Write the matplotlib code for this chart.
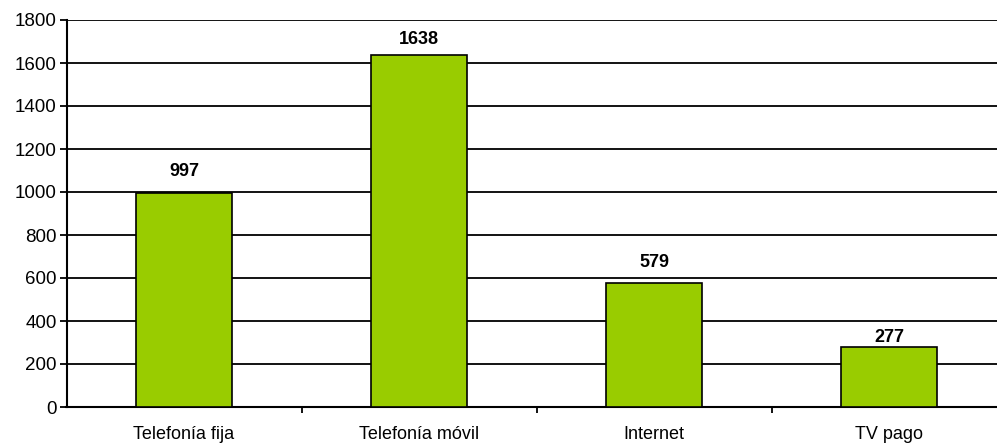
import matplotlib
matplotlib.use("Agg")
import matplotlib.pyplot as plt
import numpy as np

# Servicios y valores
categorias = ["Telefonía fija", "Telefonía móvil", "Internet", "TV pago"]
valores = [997, 1638, 579, 277]

plt.rcParams["font.family"] = ["Liberation Sans", "DejaVu Sans"]

fig = plt.figure(figsize=(9.97, 4.45), dpi=100)
ax = fig.add_axes([66.5 / 997, 1 - 407 / 445, 940 / 997, 387 / 445])

x = np.arange(len(categorias))
ax.bar(x, valores, width=0.41, color="#99CC00", edgecolor="black",
       linewidth=1.2, zorder=3)

# separacion de cada etiqueta sobre su barra (pt)
separacion = [9, 5, 8.5, 1]
for xi, v, d in zip(x, valores, separacion):
    ax.annotate(str(v), (xi, v), xytext=(0, d), textcoords="offset points",
                ha="center", va="bottom", fontsize=13, fontweight="bold")

ax.set_xlim(-0.5, len(categorias) - 0.5)
ax.set_ylim(0, 1800)
ax.set_yticks(range(0, 1801, 200))
ax.yaxis.grid(True, color="black", linewidth=1.3, zorder=0)
ax.tick_params(axis="y", length=5, width=1.3, labelsize=13.5, pad=2)

# categorias centradas, marcas entre categorias
ax.set_xticks(x)
ax.set_xticklabels(categorias, fontsize=13)
ax.tick_params(axis="x", length=0, pad=14)
ax.set_xticks(np.arange(0.5, len(categorias) - 0.5), minor=True)
ax.tick_params(axis="x", which="minor", length=4, width=1.3, direction="out")

for s in ["top", "right"]:
    ax.spines[s].set_visible(False)
ax.spines["left"].set_linewidth(1.5)
ax.spines["bottom"].set_linewidth(1.5)

fig.savefig("out.png", dpi=100)
